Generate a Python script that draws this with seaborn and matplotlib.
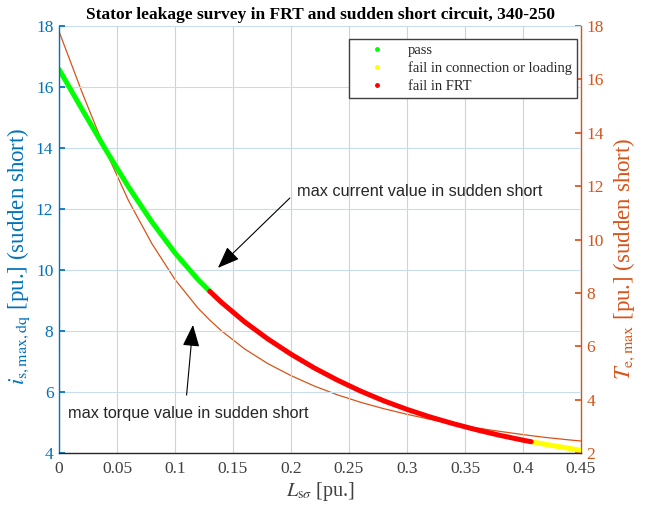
import numpy as np
import pandas as pd
import matplotlib
matplotlib.use("Agg")
import matplotlib.pyplot as plt
import seaborn as sns
from matplotlib.lines import Line2D
from matplotlib.ticker import FuncFormatter

# ---------------- data ----------------
L_s_sigma = [0.00, 0.02, 0.04, 0.06, 0.08, 0.10, 0.12, 0.13, 0.14, 0.16, 0.18,
             0.20, 0.22, 0.24, 0.26, 0.28, 0.30, 0.32, 0.34, 0.36, 0.38, 0.40,
             0.407, 0.42, 0.44, 0.45]
i_s_max = [16.58, 15.26, 13.96, 12.72, 11.58, 10.56, 9.68, 9.30, 8.94, 8.30, 7.74,
           7.24, 6.79, 6.39, 6.03, 5.71, 5.43, 5.18, 4.96, 4.76, 4.58, 4.42,
           4.37, 4.28, 4.15, 4.09]
T_e_max = [17.80, 15.50, 13.35, 11.45, 9.85, 8.50, 7.42, 6.98, 6.58, 5.90, 5.35,
           4.90, 4.51, 4.18, 3.90, 3.66, 3.45, 3.26, 3.09, 2.94, 2.81, 2.69,
           2.65, 2.58, 2.49, 2.45]
status = ["pass"] * 8 + ["fail in FRT"] * 15 + ["fail in connection or loading"] * 3
# boundary points shared by neighbouring segments
boundary_idx = {7: "fail in FRT", 22: "fail in connection or loading"}

status_labels = ["pass", "fail in connection or loading", "fail in FRT"]
status_colors = ["#00FF00", "#FFFF00", "#FF0000"]

x_ticks = [0, 0.05, 0.1, 0.15, 0.2, 0.25, 0.3, 0.35, 0.4, 0.45]
left_ticks = [4, 6, 8, 10, 12, 14, 16, 18]
right_ticks = [2, 4, 6, 8, 10, 12, 14, 16, 18]

title = "Stator leakage survey in FRT and sudden short circuit, 340-250"

# ---------------- build table ----------------
rows = []
for k, (x, y, s) in enumerate(zip(L_s_sigma, i_s_max, status)):
    rows.append((x, y, s))
    if k in boundary_idx:
        rows.append((x, y, boundary_idx[k]))
df_i = pd.DataFrame(rows, columns=["L", "i", "status"])
df_T = pd.DataFrame({"L": L_s_sigma, "T": T_e_max})

# ---------------- style ----------------
sns.set_theme(style="white")
plt.rcParams["font.family"] = ["Liberation Serif", "DejaVu Serif"]
plt.rcParams["mathtext.fontset"] = "stix"

BLUE = "#0072BD"
ORANGE = "#D95319"
DARK = "#262626"
SANS = ["Liberation Sans", "DejaVu Sans"]

fig = plt.figure(figsize=(6.45, 5.12), dpi=100)
ax = fig.add_axes([59 / 645, 59 / 512, (581 - 59) / 645, (453 - 26) / 512])
ax2 = ax.twinx()
ax.set_zorder(ax2.get_zorder() + 1)
ax.patch.set_visible(False)
ax2.set_facecolor("white")

# orange torque curve (right axis)
sns.lineplot(data=df_T, x="L", y="T", ax=ax2, color=ORANGE, lw=0.9,
             estimator=None, sort=False, legend=False)

# thick current curve (left axis), coloured by status
sns.lineplot(data=df_i, x="L", y="i", hue="status", hue_order=status_labels,
             palette=dict(zip(status_labels, status_colors)), ax=ax, lw=3.6,
             estimator=None, sort=False, legend=False)

# axes limits / ticks
ax.set_xlim(0, 0.45)
ax.set_ylim(4, 18)
ax2.set_ylim(2, 18)
ax.set_xticks(x_ticks)
ax.xaxis.set_major_formatter(FuncFormatter(lambda v, p: f"{v:g}"))
ax.set_yticks(left_ticks)
ax2.set_yticks(right_ticks)

ax.grid(axis="y", color="#c9dcec", lw=0.8)
ax.grid(axis="x", color="#cfd2d8", lw=0.8)
ax2.grid(False)

for a in (ax, ax2):
    a.spines["top"].set_visible(False)
ax.spines["right"].set_visible(False)
ax2.spines["left"].set_visible(False)
ax2.spines["bottom"].set_visible(False)
ax.spines["left"].set_color(BLUE)
ax2.spines["right"].set_color(ORANGE)
ax.spines["bottom"].set_color(DARK)
for s in ("left", "bottom"):
    ax.spines[s].set_linewidth(1.0)
ax2.spines["right"].set_linewidth(1.0)

ax.tick_params(axis="x", direction="in", length=4, colors=DARK, labelsize=12.5,
               pad=6, labelcolor="#404040")
ax.tick_params(axis="y", direction="in", length=4, colors=BLUE, labelsize=12.5,
               pad=4)
ax2.tick_params(axis="y", direction="in", length=4, colors=ORANGE, labelsize=12.5,
                pad=4)

ax.set_xlabel(r"$L_{\mathrm{s}\sigma}$ [pu.]", fontsize=14.5, color="#404040",
              labelpad=2)
ax.set_ylabel(r"$i_{\mathrm{s,max,dq}}$ [pu.] (sudden short)", fontsize=16.5,
              color=BLUE)
ax.yaxis.set_label_coords(-0.052, 0.46)
ax2.set_ylabel(r"$T_{\mathrm{e,max}}$ [pu.] (sudden short)", fontsize=16.5,
               color=ORANGE)
ax2.yaxis.set_label_coords(1.059, 0.455)
ax.set_title(title, fontsize=12.5, fontweight="bold", pad=5, color="black")

# legend
handles = [Line2D([], [], ls="none", marker=".", markersize=5, color=c)
           for c in status_colors]
leg = ax.legend(handles, status_labels, loc="upper right",
                bbox_to_anchor=(0.992, 0.970), fontsize=10.5, frameon=True,
                fancybox=False, edgecolor="#404040", framealpha=1,
                handlelength=3.15, handletextpad=0.5, borderpad=0.35,
                labelspacing=0.3, borderaxespad=0.0)
leg.get_frame().set_linewidth(1.0)

# annotations
arrow = dict(arrowstyle="-|>,head_length=0.9,head_width=0.35", color="black",
             lw=0.8, shrinkA=0, shrinkB=0, mutation_scale=15)
ax.text(0.205, 12.56, "max current value in sudden short", ha="left",
        va="center", fontsize=11.7, family=SANS)
ax.annotate("", xy=(0.137, 10.07), xytext=(0.199, 12.36), arrowprops=arrow)
ax.annotate("", xy=(0.1155, 8.2), xytext=(0.110, 5.9), arrowprops=arrow)
ax.text(0.0078, 5.31, "max torque value in sudden short", ha="left", va="center",
        fontsize=11.7, family=SANS)

fig.savefig("out.png", dpi=100)
